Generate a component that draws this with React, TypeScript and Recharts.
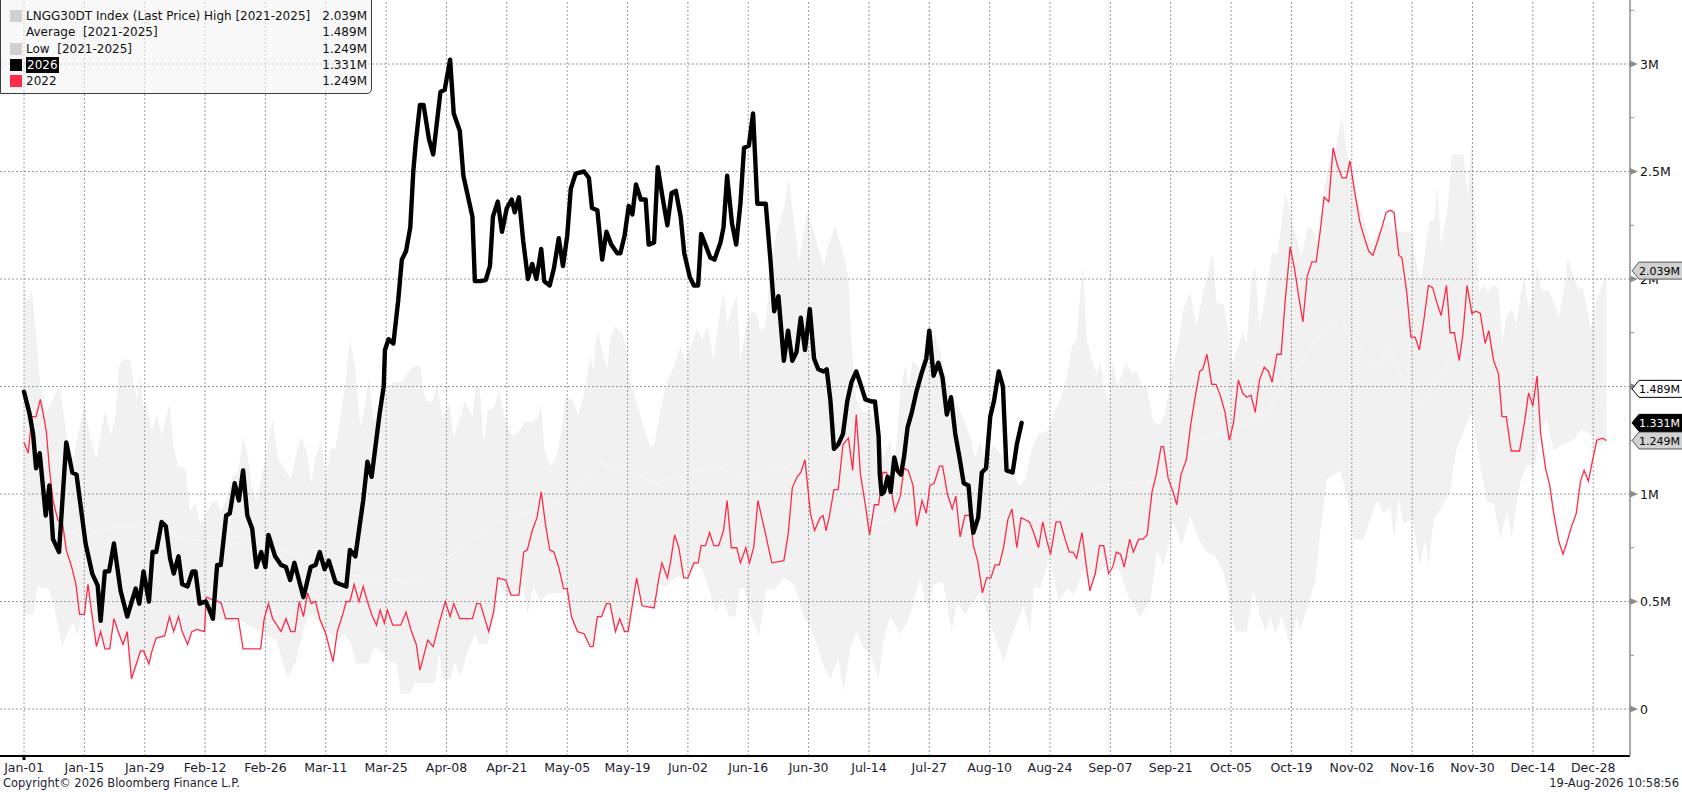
import React from 'react';
import { ComposedChart, Line, Area, XAxis, YAxis, ReferenceLine } from 'recharts';

// ---------- categories / ticks ----------
const xLabels = [
  'Jan-01', 'Jan-15', 'Jan-29', 'Feb-12', 'Feb-26', 'Mar-11', 'Mar-25', 'Apr-08', 'Apr-21',
  'May-05', 'May-19', 'Jun-02', 'Jun-16', 'Jun-30', 'Jul-14', 'Jul-27', 'Aug-10', 'Aug-24',
  'Sep-07', 'Sep-21', 'Oct-05', 'Oct-19', 'Nov-02', 'Nov-16', 'Nov-30', 'Dec-14', 'Dec-28',
];
const xTickIdx = xLabels.map((_, k) => k * 10);
const yMajor = [0, 0.5, 1, 1.5, 2, 2.5, 3];
const yTicks = [0, 0.25, 0.5, 0.75, 1, 1.25, 1.5, 1.75, 2, 2.25, 2.5, 2.75, 3, 3.25];

// ---------- legend ----------
const legendNames = [
  'LNGG30DT Index (Last Price) High [2021-2025]',
  'Average  [2021-2025]',
  'Low  [2021-2025]',
  '2026',
  '2022',
];
const legendValues = ['2.039M', '1.489M', '1.249M', '1.331M', '1.249M'];

// last-value tags on the right axis (drawn last, so they sit on top of the axis labels)
const tagValues = [2.039, 1.489, 1.249, 1.331];
const tagTexts = ['2.039M', '1.489M', '1.249M', '1.331M'];

// ---------- series (index in trading-day units, value in millions) ----------
const black2026: [number, number][] = [
  [0, 1.476], [0.9, 1.375], [1.5, 1.28], [2, 1.12], [2.6, 1.19], [3.6, 0.9], [4.2, 1.04], [4.8, 0.79],
  [5.8, 0.73], [7, 1.24], [8, 1.1], [8.7, 1.09], [10.2, 0.77], [11.3, 0.63], [12.2, 0.575], [12.7, 0.41],
  [13.4, 0.64], [14.1, 0.64], [14.9, 0.77], [16, 0.55], [17.1, 0.43], [18.5, 0.56], [19.1, 0.49], [19.8, 0.64],
  [20.7, 0.5], [21.3, 0.73], [21.9, 0.73], [22.8, 0.87], [23.5, 0.85], [24.2, 0.7], [24.8, 0.63], [25.6, 0.71],
  [26.2, 0.58], [27.1, 0.57], [27.9, 0.64], [28.4, 0.64], [29.1, 0.49], [30.1, 0.5], [30.6, 0.47], [31.3, 0.42],
  [32, 0.67], [32.6, 0.67], [33.5, 0.9], [34.1, 0.91], [34.9, 1.05], [35.6, 0.97], [36.3, 1.11], [37, 0.9],
  [37.8, 0.84], [38.5, 0.66], [39.3, 0.73], [40, 0.66], [40.5, 0.81], [41.6, 0.71], [42.6, 0.67], [43.4, 0.66],
  [44.1, 0.6], [44.8, 0.68], [46.3, 0.52], [47.5, 0.66], [48.3, 0.67], [49, 0.73], [49.8, 0.65], [50.5, 0.69],
  [51.6, 0.59], [52.4, 0.58], [53.4, 0.57], [54, 0.74], [54.9, 0.71], [56.2, 0.97], [56.9, 1.15], [57.6, 1.08],
  [58.9, 1.37], [59.6, 1.5], [59.8, 1.67], [60.4, 1.72], [61.2, 1.7], [62, 1.9], [62.6, 2.09], [63.3, 2.13],
  [64, 2.24], [64.5, 2.5], [64.9, 2.63], [65.6, 2.81], [66.2, 2.81], [67.1, 2.65], [67.8, 2.58], [69, 2.87],
  [69.7, 2.88], [70.6, 3.02], [71.2, 2.77], [72.2, 2.69], [72.8, 2.48], [74.3, 2.29], [74.7, 1.99], [75.6, 1.99],
  [76.5, 1.995], [77.2, 2.06], [77.7, 2.29], [78.5, 2.36], [79.2, 2.22], [80, 2.33], [80.8, 2.37], [81.3, 2.31],
  [82, 2.38], [82.7, 2.18], [83.5, 2.0], [84.2, 2.07], [84.9, 2.0], [85.7, 2.14], [86.2, 1.99], [87.1, 1.97],
  [87.8, 2.05], [88.6, 2.19], [89.3, 2.06], [90, 2.2], [90.6, 2.42], [91.4, 2.49], [92.8, 2.5], [93.6, 2.47],
  [94.1, 2.33], [95, 2.32], [95.8, 2.09], [96.5, 2.22], [97.3, 2.16], [98.3, 2.12], [98.8, 2.12], [99.5, 2.2],
  [100.2, 2.34], [100.8, 2.3], [101.4, 2.44], [102.2, 2.37], [103, 2.37], [103.5, 2.16], [104.4, 2.17], [105, 2.52],
  [105.8, 2.38], [106.6, 2.25], [107.3, 2.4], [108, 2.41], [108.8, 2.29], [109.4, 2.12], [110.3, 2.01], [111, 1.97],
  [111.7, 1.97], [112.2, 2.21], [112.9, 2.16], [113.7, 2.1], [114.4, 2.09], [115.4, 2.17], [115.9, 2.24], [116.5, 2.48],
  [117.3, 2.26], [118, 2.16], [118.7, 2.35], [119.3, 2.61], [120.1, 2.62], [120.8, 2.77], [121.5, 2.35], [122.9, 2.35],
  [123.7, 2.08], [124.3, 1.85], [125, 1.92], [125.9, 1.62], [126.6, 1.76], [127.3, 1.62], [128, 1.66], [128.7, 1.82],
  [129.4, 1.67], [130.2, 1.86], [130.9, 1.63], [131.6, 1.58], [132.5, 1.57], [133, 1.58], [133.6, 1.44], [134.2, 1.21],
  [134.9, 1.23], [135.7, 1.28], [136.4, 1.43], [137.1, 1.52], [137.9, 1.57], [138.5, 1.52], [139.4, 1.44], [140.5, 1.43],
  [141, 1.43], [141.6, 1.27], [141.8, 1.09], [142.1, 1.0], [142.5, 1.01], [143.1, 1.08], [143.6, 1.01], [144.2, 1.17],
  [144.7, 1.11], [145.3, 1.09], [145.8, 1.17], [146.4, 1.31], [147.1, 1.38], [147.9, 1.48], [148.7, 1.56], [149.5, 1.63],
  [150, 1.76], [150.7, 1.55], [151.5, 1.61], [152.2, 1.54], [152.9, 1.37], [153.6, 1.45], [154.3, 1.28], [155, 1.17],
  [155.7, 1.05], [156.5, 1.04], [156.9, 0.91], [157.3, 0.82], [158.1, 0.89], [158.7, 1.1], [159.4, 1.12], [160.1, 1.36],
  [160.7, 1.43], [161.5, 1.57], [162.2, 1.5], [162.8, 1.11], [163.8, 1.1], [164.5, 1.23], [165.3, 1.331],
];

const red2022: [number, number][] = [
  [0, 1.24], [0.7, 1.19], [1.3, 1.36], [2, 1.36], [2.7, 1.44], [3.2, 1.37], [3.7, 1.29], [4.2, 1.12],
  [4.8, 0.97], [5.6, 0.88], [6.4, 0.86], [7, 0.74], [7.9, 0.66], [8.6, 0.58], [9.2, 0.44], [10, 0.44],
  [10.6, 0.58], [11.3, 0.43], [12, 0.29], [12.7, 0.36], [13.4, 0.28], [14.2, 0.28], [14.9, 0.42], [15.6, 0.36],
  [16.4, 0.3], [17.1, 0.36], [17.8, 0.14], [18.5, 0.2], [19.3, 0.27], [19.8, 0.27], [20.7, 0.21], [21.2, 0.27],
  [21.9, 0.33], [23.3, 0.34], [24.1, 0.43], [24.8, 0.36], [25.6, 0.43], [26.2, 0.36], [27.1, 0.3], [27.8, 0.36],
  [28.6, 0.37], [29.9, 0.36], [30.2, 0.52], [31.1, 0.51], [32.2, 0.5], [32.7, 0.49], [33.4, 0.42], [35.5, 0.42],
  [36.3, 0.28], [39.2, 0.28], [39.8, 0.42], [40.5, 0.49], [41.2, 0.42], [42.6, 0.36], [43.4, 0.42], [44.2, 0.36],
  [44.9, 0.36], [45.6, 0.5], [46.3, 0.43], [47, 0.54], [47.6, 0.49], [48.3, 0.5], [49, 0.42], [50, 0.35],
  [51.2, 0.22], [51.9, 0.36], [52.7, 0.43], [53.4, 0.5], [54, 0.5], [54.7, 0.58], [55.5, 0.5], [56.2, 0.57],
  [56.9, 0.5], [57.6, 0.44], [58.4, 0.39], [59, 0.46], [59.7, 0.4], [60.2, 0.46], [61.1, 0.39], [62.4, 0.39],
  [63.3, 0.45], [64.2, 0.36], [65, 0.3], [65.6, 0.18], [66.9, 0.32], [67.8, 0.29], [68.7, 0.39], [69.8, 0.5],
  [70.6, 0.43], [71.2, 0.49], [72.2, 0.42], [74.3, 0.42], [75, 0.49], [75.6, 0.49], [77, 0.36], [77.8, 0.45],
  [78.5, 0.61], [79.8, 0.6], [80.7, 0.53], [82, 0.53], [82.8, 0.73], [83.4, 0.74], [84.2, 0.83], [85, 0.89],
  [85.7, 1.01], [86.4, 0.86], [87.1, 0.74], [87.8, 0.73], [88.6, 0.66], [89.4, 0.56], [90, 0.56], [90.7, 0.43],
  [91.7, 0.36], [92.8, 0.35], [93.8, 0.29], [94.3, 0.29], [95, 0.43], [95.7, 0.43], [96.5, 0.49], [97.1, 0.49],
  [98, 0.36], [98.7, 0.42], [99.5, 0.36], [100.1, 0.36], [101.5, 0.61], [102.4, 0.48], [104.4, 0.47], [105.2, 0.61],
  [105.7, 0.68], [106.6, 0.61], [107.1, 0.68], [107.8, 0.81], [108.5, 0.75], [109.3, 0.61], [110, 0.61], [111, 0.68],
  [111.7, 0.68], [112.2, 0.76], [112.9, 0.76], [113.6, 0.82], [114.3, 0.76], [115.1, 0.76], [115.9, 0.83], [116.5, 0.97],
  [117.2, 0.75], [118.1, 0.75], [118.7, 0.68], [119.6, 0.75], [120.2, 0.68], [120.9, 0.75], [121.6, 0.97], [122.9, 0.81],
  [123.9, 0.68], [125.9, 0.69], [126.6, 0.81], [127.3, 1.03], [128.1, 1.08], [128.7, 1.1], [129.4, 1.16], [130.3, 0.91],
  [131, 0.83], [131.9, 0.89], [132.4, 0.9], [132.9, 0.83], [133.4, 0.89], [134.2, 1.02], [134.9, 1.02], [135.7, 1.23],
  [136.6, 1.26], [137.3, 1.11], [137.9, 1.37], [138.6, 1.09], [139.4, 0.95], [140.1, 0.81], [140.9, 0.95], [141.6, 0.95],
  [142.3, 1.1], [142.9, 1.1], [143.6, 1.03], [144.3, 0.92], [145.2, 0.99], [145.8, 1.12], [146.5, 1.11], [147.3, 1.04],
  [147.9, 0.85], [148.8, 0.97], [149.5, 0.91], [150.1, 1.04], [150.8, 1.05], [151.7, 1.13], [152.2, 1.13], [153, 1.0],
  [153.8, 0.93], [154.4, 0.99], [155.1, 0.8], [155.9, 0.9], [156.7, 0.9], [157.3, 0.76], [158, 0.69], [158.8, 0.54],
  [159.5, 0.61], [160.2, 0.61], [160.9, 0.67], [161.6, 0.67], [162.3, 0.75], [163, 0.88], [163.7, 0.93], [164.5, 0.75],
  [165.2, 0.89], [166.6, 0.87], [167.3, 0.82], [168.1, 0.75], [168.8, 0.87], [169.5, 0.78], [170.1, 0.72], [171, 0.87],
  [171.7, 0.87], [172.5, 0.79], [173.2, 0.73], [173.8, 0.73], [174.4, 0.7], [175.3, 0.82], [176, 0.67], [176.6, 0.55],
  [177.5, 0.63], [178.2, 0.76], [178.9, 0.76], [179.7, 0.63], [180.4, 0.66], [181, 0.73], [181.7, 0.72], [182.3, 0.66],
  [183.2, 0.79], [183.8, 0.73], [184.7, 0.79], [185.4, 0.79], [186.1, 0.81], [186.9, 1.01], [187.6, 1.09], [188.4, 1.22],
  [188.8, 1.22], [189.6, 1.07], [190.4, 1.01], [191, 0.95], [191.7, 1.09], [192.6, 1.16], [193.3, 1.32], [194.1, 1.46],
  [194.8, 1.57], [195.3, 1.58], [196, 1.65], [196.8, 1.51], [197.5, 1.51], [198.2, 1.46], [199, 1.38], [199.7, 1.25],
  [200.4, 1.33], [201.2, 1.53], [201.9, 1.47], [202.6, 1.45], [203.3, 1.46], [204, 1.38], [204.7, 1.53], [205.5, 1.59],
  [206.2, 1.57], [206.8, 1.52], [207.6, 1.65], [208.3, 1.65], [209, 1.91], [209.8, 2.15], [210.5, 2.05], [211.2, 1.92],
  [211.9, 1.8], [212.6, 2.01], [213.4, 2.08], [214.1, 2.08], [214.8, 2.23], [215.4, 2.38], [216.2, 2.36], [216.9, 2.61],
  [217.6, 2.53], [218.4, 2.47], [219.1, 2.47], [219.7, 2.55], [220.4, 2.42], [221.3, 2.27], [222, 2.2], [222.8, 2.13],
  [223.5, 2.11], [224.2, 2.17], [225, 2.24], [225.7, 2.31], [226.4, 2.32], [227, 2.31], [227.8, 2.11], [228.3, 2.1],
  [229.1, 1.94], [229.8, 1.73], [230.5, 1.73], [231.2, 1.67], [232, 1.82], [232.7, 1.97], [233.4, 1.96], [234.1, 1.89],
  [234.8, 1.83], [235.7, 1.97], [236.3, 1.75], [237, 1.75], [237.8, 1.62], [238.4, 1.74], [239.1, 1.97], [239.9, 1.84],
  [240.6, 1.85], [241.3, 1.84], [242.1, 1.7], [242.7, 1.76], [243.5, 1.62], [244.3, 1.56], [244.9, 1.36], [245.6, 1.36],
  [246.4, 1.2], [247.1, 1.2], [247.8, 1.2], [248.6, 1.33], [249.3, 1.47], [250, 1.41], [250.7, 1.55], [251.3, 1.28],
  [252.1, 1.12], [252.8, 1.04], [253.4, 0.92], [254.3, 0.78], [255, 0.72], [255.7, 0.78], [256.3, 0.84], [257.2, 0.91],
  [257.9, 1.06], [258.5, 1.11], [259.2, 1.06], [260, 1.17], [260.6, 1.25], [261.5, 1.26], [262.2, 1.249],
];

const high2125: [number, number][] = [
  [0, 1.96], [0.7, 1.9], [1.3, 1.95], [2, 1.74], [2.7, 1.5], [3.7, 1.38], [4.8, 1.44], [5.8, 1.5],
  [6.4, 1.41], [7.2, 1.24], [8.2, 1.17], [9.2, 1.31], [10, 1.41], [10.8, 1.29], [12, 1.16], [12.7, 1.27],
  [13.4, 1.39], [14.4, 1.27], [15.2, 1.37], [15.7, 1.59], [16.5, 1.63], [17.6, 1.62], [18.2, 1.52], [18.7, 1.44],
  [19.3, 1.55], [19.7, 1.41], [20.4, 1.42], [21.2, 1.29], [22, 1.37], [22.8, 1.27], [24.1, 1.42], [24.8, 1.21],
  [25.6, 1.13], [26.7, 1.12], [27.5, 0.92], [28.4, 0.96], [29.2, 0.86], [29.9, 0.89], [31.1, 0.96], [31.9, 0.97],
  [32.6, 0.92], [33.5, 0.97], [34.4, 1.07], [35.5, 1.11], [36.3, 1.27], [37.1, 1.17], [37.6, 1.05], [38.5, 0.97],
  [39.3, 1.07], [40.3, 1.22], [41.2, 1.35], [42, 1.17], [43.1, 1.12], [44.2, 1.07], [45, 1.17], [45.9, 1.27],
  [46.7, 1.21], [47.6, 1.05], [48.3, 1.17], [49.2, 1.25], [50, 1.07], [50.8, 1.21], [51.6, 1.21], [52.4, 1.35],
  [53.4, 1.55], [54, 1.72], [54.9, 1.58], [55.7, 1.31], [56.5, 1.41], [57.1, 1.54], [57.9, 1.34], [58.9, 1.37],
  [59.7, 1.44], [61, 1.52], [62.6, 1.52], [64, 1.58], [64.9, 1.6], [65.7, 1.59], [66.2, 1.48], [66.8, 1.43],
  [67.6, 1.43], [68.5, 1.52], [69.3, 1.35], [70.4, 1.42], [71.2, 1.26], [72.2, 1.35], [73, 1.43], [74.3, 1.36],
  [74.8, 1.5], [75.5, 1.5], [76.2, 1.23], [76.9, 1.39], [77.8, 1.4], [78.7, 1.48], [79.5, 1.37], [80.9, 1.27],
  [82, 1.29], [83.1, 1.34], [84.2, 1.33], [85.1, 1.35], [85.7, 1.42], [86.2, 1.21], [87.1, 1.13], [88.1, 1.16],
  [88.9, 1.27], [89.7, 1.45], [90.8, 1.44], [91.9, 1.37], [92.9, 1.48], [93.8, 1.64], [94.3, 1.58], [95, 1.76],
  [95.5, 1.7], [96.6, 1.58], [97.2, 1.73], [98, 1.78], [99.1, 1.75], [99.9, 1.66], [100.6, 1.51], [101.6, 1.41],
  [102.7, 1.31], [103.7, 1.22], [104.4, 1.23], [105.5, 1.4], [106.6, 1.53], [107.7, 1.59], [108.8, 1.69], [109.4, 1.62],
  [110.4, 1.68], [111.5, 1.77], [112.4, 1.72], [113.2, 1.78], [114.3, 1.62], [115.1, 1.81], [115.9, 1.94], [116.6, 1.78],
  [117.3, 1.86], [118.1, 1.93], [118.7, 1.62], [119.7, 1.78], [120.6, 1.85], [121.4, 1.84], [122, 1.76], [122.9, 1.78],
  [123.7, 2.09], [124.8, 2.22], [125.9, 2.33], [126.7, 2.47], [127.6, 2.26], [128.4, 2.08], [128.9, 2.16], [129.8, 2.32],
  [130.6, 2.25], [131.4, 2.16], [132.5, 2.06], [133.3, 2.16], [134.4, 2.25], [135.5, 2.14], [136.6, 2.01], [137.1, 1.7],
  [137.9, 1.44], [139.1, 1.38], [140.2, 1.38], [141.3, 1.31], [142.4, 1.17], [143.5, 1.25], [144.1, 1.09], [145.2, 1.46],
  [146, 1.61], [146.5, 1.5], [147.3, 1.62], [148.5, 1.58], [149.6, 1.7], [151, 1.74], [151.8, 1.66], [152.8, 1.54],
  [154, 1.44], [155.1, 1.39], [156.2, 1.31], [157, 1.25], [157.6, 1.17], [158.4, 1.24], [159.5, 1.14], [160.6, 1.23],
  [161.7, 1.19], [162.8, 1.17], [163.9, 1.09], [165, 1.04], [165.9, 1.07], [167, 1.21], [168.1, 1.28], [169.5, 1.29],
  [170.6, 1.37], [171.7, 1.44], [172.8, 1.55], [173.6, 1.68], [174.4, 1.72], [175.4, 2.06], [176.1, 1.72], [176.9, 1.63],
  [177.8, 1.55], [178.3, 1.62], [179.1, 1.48], [179.7, 1.43], [180.4, 1.62], [181.1, 1.5], [181.9, 1.55], [182.6, 1.61],
  [183.6, 1.56], [184.4, 1.57], [185.2, 1.5], [186, 1.5], [187.1, 1.34], [188.3, 1.32], [189.1, 1.38], [190.2, 1.58],
  [191.3, 1.7], [192.1, 1.86], [193.2, 1.94], [194.3, 1.78], [195.4, 1.94], [196.3, 2.04], [197, 2.12], [197.6, 1.89],
  [198.8, 1.88], [199.6, 1.75], [200.1, 1.6], [201.1, 1.68], [202, 1.76], [202.6, 1.7], [203.3, 1.98], [204, 2.06],
  [204.7, 1.78], [205.7, 1.92], [206.8, 2.12], [207.7, 2.12], [209, 2.4], [209.8, 2.31], [210.6, 2.22], [211.7, 2.1],
  [212.7, 2.24], [213.4, 2.23], [214.5, 2.16], [215.4, 2.42], [216.2, 2.53], [217.3, 2.6], [218.4, 2.76], [218.9, 2.64],
  [219.9, 2.49], [220.9, 2.38], [222, 2.27], [223.3, 2.16], [224.7, 2.24], [226.1, 2.27], [226.9, 2.23], [228, 2.22],
  [229.8, 2.22], [230.5, 2.1], [231.4, 1.99], [232.2, 2.14], [232.9, 2.27], [233.6, 2.27], [234.2, 2.43], [234.8, 2.16],
  [235.8, 2.31], [236.6, 2.58], [237.4, 2.58], [238.5, 2.58], [239.2, 2.39], [239.9, 2.64], [240.5, 2.29], [241, 1.94],
  [241.8, 1.97], [242.7, 1.94], [243.5, 1.97], [244.3, 1.96], [244.9, 1.7], [245.7, 1.83], [246.5, 1.86], [247.3, 1.79],
  [247.9, 1.92], [248.6, 2.01], [249.3, 1.86], [250.1, 1.93], [250.7, 2.06], [251.5, 1.94], [252.6, 1.95], [253.4, 1.9],
  [254.3, 1.82], [255.1, 1.94], [255.8, 2.1], [256.8, 2.01], [257.6, 1.95], [258.2, 1.96], [259, 1.86], [259.6, 1.77],
  [260.4, 1.89], [261.5, 1.97], [262.2, 2.039],
];

const low2125: [number, number][] = [
  [0, 0.44], [1.5, 0.44], [2.3, 0.57], [4.1, 0.56], [5.1, 0.46], [6.3, 0.29], [7.3, 0.36], [8.2, 0.4],
  [8.9, 0.34], [9.6, 0.44], [10.2, 0.5], [10.6, 0.58], [11.3, 0.43], [12, 0.29], [12.7, 0.36], [13.4, 0.28],
  [14.2, 0.28], [14.9, 0.42], [15.6, 0.36], [16.4, 0.3], [17.1, 0.36], [17.8, 0.14], [18.5, 0.2], [19.3, 0.27],
  [19.8, 0.27], [20.7, 0.21], [21.2, 0.27], [21.9, 0.33], [23.3, 0.34], [24.1, 0.43], [24.8, 0.36], [25.6, 0.43],
  [26.2, 0.36], [27.1, 0.3], [27.8, 0.36], [28.6, 0.37], [29.9, 0.36], [30.4, 0.41], [35.8, 0.41], [40.6, 0.34],
  [41.8, 0.32], [43.7, 0.14], [45, 0.22], [46.9, 0.43], [48.2, 0.43], [49.4, 0.38], [52, 0.32], [53.2, 0.35],
  [54.2, 0.3], [55.1, 0.21], [57.1, 0.21], [58, 0.29], [59.6, 0.26], [60.5, 0.22], [61.8, 0.21], [62.4, 0.07],
  [64, 0.07], [64.7, 0.12], [68.1, 0.12], [68.8, 0.27], [69.4, 0.14], [70.7, 0.14], [71.3, 0.22], [72.3, 0.15],
  [73.5, 0.27], [74.8, 0.35], [75.4, 0.3], [76.7, 0.3], [78, 0.43], [78.6, 0.58], [80, 0.52], [82.7, 0.57],
  [83.4, 0.44], [84.4, 0.57], [85.6, 0.5], [86.9, 0.54], [89.4, 0.54], [90, 0.56], [90.7, 0.43], [91.7, 0.36],
  [92.8, 0.35], [93.8, 0.29], [94.3, 0.29], [95, 0.43], [95.7, 0.43], [96.5, 0.49], [97.1, 0.49], [98, 0.36],
  [98.7, 0.42], [99.5, 0.36], [100.1, 0.36], [101.5, 0.61], [102.4, 0.48], [104.4, 0.47], [105.2, 0.58], [106.3, 0.57],
  [107.5, 0.6], [108.5, 0.62], [109.7, 0.62], [111.9, 0.68], [113.5, 0.56], [114.6, 0.45], [115.7, 0.52], [116.8, 0.43],
  [117.9, 0.43], [118.6, 0.56], [119.3, 0.56], [120.4, 0.44], [121.8, 0.34], [122.9, 0.56], [124.3, 0.55], [125.9, 0.61],
  [127.6, 0.58], [129.2, 0.43], [130.3, 0.38], [131.4, 0.3], [132.5, 0.2], [133.6, 0.14], [134.9, 0.24], [135.8, 0.08],
  [136.9, 0.28], [138, 0.36], [139.1, 0.28], [140.2, 0.26], [141.6, 0.14], [142.4, 0.32], [143.5, 0.43], [145.2, 0.35],
  [146.5, 0.41], [148.5, 0.61], [149.6, 0.46], [150.7, 0.58], [152.3, 0.59], [153.7, 0.36], [154.6, 0.5], [155.9, 0.44],
  [157.3, 0.5], [158.4, 0.54], [159.5, 0.46], [160.6, 0.36], [162.3, 0.22], [163.9, 0.36], [165.6, 0.48], [166.7, 0.36],
  [167.3, 0.57], [168.4, 0.56], [170, 0.71], [171.4, 0.5], [172.8, 0.56], [173.9, 0.53], [175.5, 0.64], [176.7, 0.59],
  [178.3, 0.64], [180, 0.69], [181.6, 0.64], [183, 0.52], [184.9, 0.43], [186.6, 0.5], [187.7, 0.73], [188.8, 0.67],
  [190.5, 0.87], [191.8, 0.76], [193.2, 0.9], [194.6, 0.79], [196, 0.73], [197.4, 0.71], [198.8, 0.63], [200.1, 0.45],
  [200.8, 0.36], [202.6, 0.36], [203.7, 0.55], [204.8, 0.43], [205.7, 0.36], [206.5, 0.43], [207.3, 0.35], [208.4, 0.43],
  [209.8, 0.29], [210.9, 0.43], [211.5, 0.37], [212.8, 0.49], [213.9, 0.59], [214.8, 0.83], [215.9, 1.07], [217, 1.09],
  [218.1, 1.11], [219.2, 0.99], [220.3, 0.79], [222, 0.79], [223.1, 0.89], [224.2, 0.97], [225.3, 0.91], [226.4, 0.94],
  [227, 0.8], [227.8, 0.98], [228.6, 0.86], [230, 0.89], [231.3, 0.67], [232.2, 0.79], [232.7, 0.66], [233.6, 0.89],
  [234.7, 0.93], [236.3, 1.01], [237.2, 1.19], [238.5, 1.29], [239.9, 1.38], [241.3, 1.13], [242.4, 0.96], [243.5, 0.96],
  [244.6, 0.79], [245.7, 0.92], [246.5, 0.8], [247.9, 1.05], [249, 1.13], [250.4, 1.13], [251.2, 1.29], [252.3, 1.35],
  [253.4, 1.2], [254.3, 1.22], [255.5, 1.24], [256.8, 1.25], [258, 1.3], [259.5, 1.28], [261, 1.22], [262.2, 1.249],
];

const avg2125: [number, number][] = [
  [0, 1.0], [5, 0.85], [10, 0.8], [15, 0.85], [20, 0.85], [25, 0.8], [30, 0.78], [35, 0.8],
  [40, 0.78], [45, 0.72], [50, 0.65], [55, 0.62], [60, 0.6], [65, 0.58], [70, 0.7], [75, 0.8],
  [80, 0.9], [85, 0.92], [90, 0.98], [95, 1.15], [100, 1.1], [105, 1.05], [110, 1.1], [115, 1.12],
  [120, 1.08], [125, 1.12], [130, 1.15], [135, 1.0], [140, 0.85], [145, 0.9], [150, 0.98], [155, 0.95],
  [160, 0.9], [165, 0.88], [170, 0.92], [175, 1.0], [180, 1.05], [185, 1.05], [190, 1.1], [195, 1.25],
  [200, 1.3], [205, 1.35], [210, 1.55], [215, 1.75], [218, 1.82], [222, 1.65], [224, 1.58], [226, 1.68],
  [228, 1.56], [231, 1.39], [234, 1.52], [237, 1.66], [241, 1.54], [246, 1.37], [250, 1.33], [254, 1.22],
  [257, 1.26], [260, 1.36], [262.2, 1.489],
];

const toRows = (a: [number, number][]) => a.map(([i, v]) => ({ i, v }));

const FONT = '"DejaVu Sans", Tahoma, sans-serif';
const W = 1682;
const H = 792;

const fmtY = (v: number) => (v === 0 ? '0' : `${v}M`);

const XTick = (props: any) => {
  const { x, y, payload } = props;
  const k = Math.round(payload.value / 10);
  return (
    <g>
      {k === 0 && <rect x={x - 1.5} y={y} width={3} height={4} fill="#000" />}
      <text x={x} y={y + 16} textAnchor="middle" fontSize={12.5} fill="#1c1c30" fontFamily={FONT}>
        {xLabels[k]}
      </text>
    </g>
  );
};

const tagStyles = [
  { fill: '#d2d2d2', stroke: '#555', text: '#000' },
  { fill: '#ffffff', stroke: '#000', text: '#000' },
  { fill: '#d2d2d2', stroke: '#555', text: '#000' },
  { fill: '#000000', stroke: '#000', text: '#fff' },
];

const YTick = (props: any) => {
  const { x, y, payload } = props;
  const v = payload.value as number;
  const tk = tagValues.indexOf(v);
  if (tk >= 0) {
    const s = tagStyles[tk];
    const x0 = x + 2;
    const h = 8.5;
    return (
      <g>
        <polygon
          points={`${x0},${y} ${x0 + 7},${y - h} ${x0 + 60},${y - h} ${x0 + 60},${y + h} ${x0 + 7},${y + h}`}
          fill={s.fill}
          stroke={s.stroke}
          strokeWidth={1}
        />
        <text x={x0 + 7} y={y + 4.5} fontSize={11} fill={s.text} fontFamily={FONT}>
          {tagTexts[tk]}
        </text>
      </g>
    );
  }
  const major = Math.abs(v * 2 - Math.round(v * 2)) < 1e-6;
  if (!major) {
    return <line x1={x} x2={x + 4} y1={y} y2={y} stroke="#8c8c8c" strokeWidth={1} />;
  }
  return (
    <g>
      <polygon points={`${x},${y - 3.5} ${x + 8},${y} ${x},${y + 3.5}`} fill="#8c8c8c" />
      <text x={x + 10} y={y + 4.5} fontSize={12.5} fill="#111" fontFamily={FONT}>
        {fmtY(v)}
      </text>
    </g>
  );
};

const swatch = (k: number) => {
  const base: React.CSSProperties = { position: 'absolute', left: 9, width: 12, height: 12, boxSizing: 'border-box' };
  if (k === 0 || k === 2) return <div style={{ ...base, background: '#d0d0d0' }} />;
  if (k === 1) return <div style={{ ...base, border: '1px dashed #fff', background: 'transparent' }} />;
  if (k === 3) return <div style={{ ...base, background: '#000' }} />;
  return <div style={{ ...base, background: '#ff2a48' }} />;
};

const LegendBox = () => (
  <div
    style={{
      position: 'absolute',
      left: 0,
      top: -2,
      width: 372,
      height: 96,
      boxSizing: 'border-box',
      border: '1px solid #3c3c3c',
      borderRadius: '0 0 5px 0',
      background: 'rgba(244,244,244,0.6)',
      fontFamily: FONT,
      fontSize: 12,
      color: '#111',
    }}
  >
    {legendNames.map((name, k) => {
      const top = 9 + k * 16.25;
      return (
        <div key={k} style={{ position: 'absolute', left: 0, top, width: 370, height: 16 }}>
          <div style={{ position: 'absolute', left: 0, top: 2, width: 30, height: 12 }}>{swatch(k)}</div>
          <div
            style={{
              position: 'absolute',
              left: 25,
              top: 0,
              lineHeight: '16px',
              whiteSpace: 'pre',
              background: k === 3 ? '#000' : 'transparent',
              color: k === 3 ? '#fff' : '#111',
              padding: k === 3 ? '0 1px' : 0,
            }}
          >
            {name}
          </div>
          <div style={{ position: 'absolute', right: 4, top: 0, lineHeight: '16px' }}>{legendValues[k]}</div>
        </div>
      );
    })}
  </div>
);

export default function App() {
  const grid = '#9a9a9a';
  return (
    <div style={{ position: 'absolute', left: 0, top: 0, width: W, height: H, background: '#fff', overflow: 'hidden' }}>
      <ComposedChart width={W} height={H} margin={{ top: 0, right: 0, bottom: 0, left: 0 }}>
        <XAxis
          xAxisId="x"
          dataKey="i"
          type="number"
          domain={[-3.98, 266.1]}
          allowDataOverflow
          ticks={xTickIdx}
          interval={0}
          height={36}
          tickSize={0}
          tickMargin={0}
          tickLine={false}
          axisLine={{ stroke: '#000', strokeWidth: 2 }}
          tick={<XTick />}
        />
        <YAxis
          yAxisId="y"
          orientation="right"
          type="number"
          domain={[-0.2186, 3.2977]}
          allowDataOverflow
          ticks={[...yTicks, ...tagValues]}
          interval={0}
          width={52}
          tickSize={0}
          tickMargin={0}
          tickLine={false}
          axisLine={{ stroke: '#8c8c8c', strokeWidth: 1.5 }}
          tick={<YTick />}
        />
        <Area
          xAxisId="x"
          yAxisId="y"
          data={toRows(high2125)}
          dataKey="v"
          type="linear"
          stroke="none"
          fill="#f1f1f1"
          fillOpacity={1}
          baseValue={0}
          isAnimationActive={false}
          dot={false}
          activeDot={false}
        />
        <Area
          xAxisId="x"
          yAxisId="y"
          data={toRows(low2125)}
          dataKey="v"
          type="linear"
          stroke="none"
          fill="#ffffff"
          fillOpacity={1}
          baseValue={0}
          isAnimationActive={false}
          dot={false}
          activeDot={false}
        />
        {yMajor.map((v) => (
          <ReferenceLine key={`h${v}`} xAxisId="x" yAxisId="y" y={v} stroke={grid} strokeDasharray="2 2" strokeWidth={1} />
        ))}
        {xTickIdx.map((v) => (
          <ReferenceLine key={`v${v}`} xAxisId="x" yAxisId="y" x={v} stroke={grid} strokeDasharray="2 2" strokeWidth={1} />
        ))}
        <Line
          xAxisId="x"
          yAxisId="y"
          data={toRows(avg2125)}
          dataKey="v"
          type="linear"
          stroke="#ffffff"
          strokeWidth={1}
          strokeDasharray="1.5 2"
          dot={false}
          activeDot={false}
          isAnimationActive={false}
        />
        <Line
          xAxisId="x"
          yAxisId="y"
          data={toRows(red2022)}
          dataKey="v"
          type="linear"
          stroke="#ff2a48"
          strokeWidth={1.3}
          dot={false}
          activeDot={false}
          isAnimationActive={false}
        />
        <Line
          xAxisId="x"
          yAxisId="y"
          data={toRows(black2026)}
          dataKey="v"
          type="linear"
          stroke="#000"
          strokeWidth={4.4}
          strokeLinejoin="round"
          strokeLinecap="round"
          dot={false}
          activeDot={false}
          isAnimationActive={false}
        />
      </ComposedChart>
      <LegendBox />
      <div
        style={{
          position: 'absolute',
          left: 3,
          top: 776,
          fontFamily: FONT,
          fontSize: 11.5,
          color: '#1c1c30',
          lineHeight: '14px',
          whiteSpace: 'pre',
        }}
      >
        Copyright© 2026 Bloomberg Finance L.P.
      </div>
      <div
        style={{
          position: 'absolute',
          right: 3,
          top: 776,
          fontFamily: FONT,
          fontSize: 11.5,
          color: '#1c1c30',
          lineHeight: '14px',
          whiteSpace: 'pre',
        }}
      >
        19-Aug-2026 10:58:56
      </div>
    </div>
  );
}
